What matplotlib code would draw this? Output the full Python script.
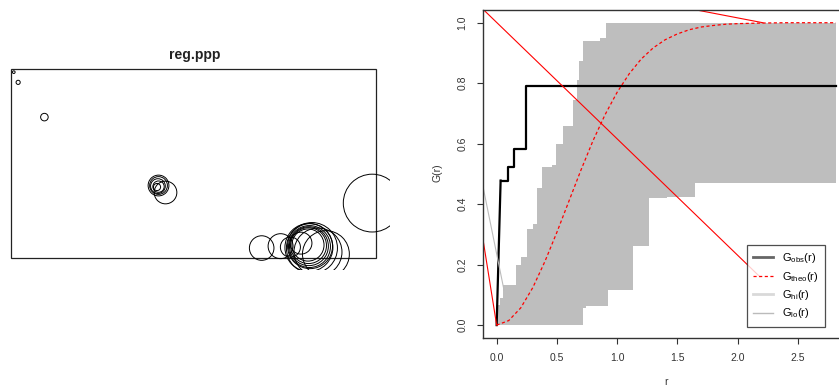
import numpy as np
import matplotlib
matplotlib.use("Agg")
import matplotlib.pyplot as plt
from matplotlib.patches import Circle, Rectangle

plt.rcParams['font.family'] = ['Liberation Sans', 'DejaVu Sans']
plt.rcParams['mathtext.fontset'] = 'custom'
plt.rcParams['mathtext.rm'] = 'Liberation Sans'
plt.rcParams['mathtext.it'] = 'Liberation Sans'

# point pattern: window and marked points (x, y, radius)
win_w, win_h = 1.933, 1.0
pts_x = [0.016, 0.039, 0.178,
         0.782, 0.782, 0.779, 0.782, 0.774, 0.819,
         1.328, 1.428, 1.480, 1.536, 1.573, 1.576, 1.578, 1.581, 1.584,
         1.578, 1.594, 1.626, 1.668, 1.913]
pts_y = [0.984, 0.930, 0.746,
         0.384, 0.384, 0.381, 0.378, 0.376, 0.347,
         0.053, 0.063, 0.058, 0.079, 0.069, 0.066, 0.063, 0.061, 0.063,
         0.056, 0.053, 0.032, 0.021, 0.291]
pts_m = [0.007, 0.011, 0.020,
         0.055, 0.047, 0.039, 0.030, 0.019, 0.060,
         0.065, 0.066, 0.053, 0.058, 0.085, 0.095, 0.103, 0.111, 0.119,
         0.127, 0.135, 0.127, 0.124, 0.153]

# G-function envelope
obs_r = [0.0, 0.033, 0.091, 0.144, 0.243, 2.816]
obs_g = [0.0, 0.478, 0.524, 0.581, 0.790, 0.790]
theo_r = [0.0, 0.1, 0.2, 0.3, 0.4, 0.5, 0.6, 0.7, 0.8, 0.9, 1.0, 1.1, 1.2,
          1.3, 1.4, 1.5, 1.6, 1.7, 1.8, 1.9, 2.0, 2.2, 2.4, 2.816]
theo_g = [0.0, 0.015, 0.057, 0.124, 0.210, 0.307, 0.410, 0.513, 0.610, 0.696,
          0.770, 0.831, 0.880, 0.917, 0.944, 0.963, 0.977, 0.986, 0.991,
          0.995, 0.997, 0.999, 1.0, 1.0]
hi_r = [0.0, 0.025, 0.055, 0.160, 0.204, 0.252, 0.300, 0.338, 0.376, 0.459,
        0.492, 0.553, 0.631, 0.664, 0.683, 0.719, 0.858, 0.905, 2.816]
hi_g = [0.066, 0.089, 0.134, 0.200, 0.224, 0.318, 0.333, 0.454, 0.524, 0.531,
        0.598, 0.658, 0.746, 0.810, 0.873, 0.938, 0.951, 1.0, 1.0]
lo_r = [0.0, 0.714, 0.741, 0.927, 1.134, 1.267, 1.416, 1.646, 2.816]
lo_g = [0.0, 0.055, 0.063, 0.116, 0.262, 0.422, 0.424, 0.469, 0.469]

# stray segments
red_segs = [([-0.2, 0.0], [0.5, 0.0]),
            ([-0.2, 2.185], [1.078, 0.160]),
            ([1.4, 2.21], [1.062, 1.0])]
grey_seg = ([-0.2, 0.061], [0.628, 0.116])

fig = plt.figure(figsize=(8.39, 3.86), dpi=100)

# left panel: the pattern
ax1 = fig.add_axes([0.0, 0.3005, 0.4648, 0.544])
ax1.set_xlim(-0.057, 2.007)
ax1.set_ylim(-0.063, 1.048)
ax1.set_aspect('equal')
ax1.axis('off')
ax1.add_patch(Rectangle((0, 0), win_w, win_h, fill=False, ec='#222222', lw=0.9))
for x, y, m in zip(pts_x, pts_y, pts_m):
    ax1.add_patch(Circle((x, y), m, fill=False, ec='black', lw=0.7))
fig.text(195 / 839, 1 - 55 / 386, 'reg.ppp', ha='center', va='center',
         fontsize=10, fontweight='bold', color='#222222')

# right panel: envelope plot
ax2 = fig.add_axes([0.5753, 0.1256, 0.4497, 0.8484])
ax2.set_xlim(-0.116, 3.016)
ax2.set_ylim(-0.041, 1.042)

grid = np.union1d(hi_r, lo_r)
up = np.array(hi_g)[np.searchsorted(hi_r, grid, side='right') - 1]
dn = np.array(lo_g)[np.searchsorted(lo_r, grid, side='right') - 1]
ax2.fill_between(grid, dn, up, step='post', color='#bebebe', lw=0)

ax2.plot(obs_r[:2], obs_g[:2], color='black', lw=1.6)
ax2.step(obs_r[1:], obs_g[1:], where='post', color='black', lw=1.6)
ax2.plot(theo_r, theo_g, color='red', lw=0.9, ls=(0, (2.5, 2)))
ax2.plot(*grey_seg, color='#bbbbbb', lw=0.8)
for sx, sy in red_segs:
    ax2.plot(sx, sy, color='red', lw=0.8)

ax2.set_xticks([0, 0.5, 1.0, 1.5, 2.0, 2.5])
ax2.set_xticklabels(['0.0', '0.5', '1.0', '1.5', '2.0', '2.5'])
ax2.set_yticks([0, 0.2, 0.4, 0.6, 0.8, 1.0])
ax2.set_yticklabels(['0.0', '0.2', '0.4', '0.6', '0.8', '1.0'],
                    rotation=90, va='center')
ax2.tick_params(length=4.5, width=0.8, labelsize=7.5, pad=6.5,
                colors='#333333')
for sp in ax2.spines.values():
    sp.set_color('#333333')
    sp.set_linewidth(1.0)

fig.text(437 / 839, 1 - 173 / 386, 'G(r)', rotation=90, ha='center',
         va='center', fontsize=7.5, color='#333333')
fig.text(666 / 839, 1 - 382 / 386, 'r', ha='center', va='center',
         fontsize=7.5, color='#333333')

handles = [
    plt.Line2D([], [], color='#666666', lw=2),
    plt.Line2D([], [], color='red', lw=0.9, ls=(0, (2.5, 2))),
    plt.Line2D([], [], color='#d9d9d9', lw=2),
    plt.Line2D([], [], color='#bbbbbb', lw=1),
]
labels = [r'$\mathrm{G_{obs}(r)}$', r'$\mathrm{G_{theo}(r)}$',
          r'$\mathrm{G_{hi}(r)}$', r'$\mathrm{G_{lo}(r)}$']
leg = ax2.legend(handles, labels, loc='upper left',
                 bbox_to_anchor=((747.3 - 482.7) / 377.3, 1 - (245 - 10) / 327.5),
                 fontsize=8, frameon=True, fancybox=False, handlelength=1.8,
                 handletextpad=0.8, labelspacing=0.4, borderpad=0.55,
                 borderaxespad=0)
leg.get_frame().set_edgecolor('#222222')
leg.get_frame().set_linewidth(0.9)

fig.savefig('out.png', dpi=100)
